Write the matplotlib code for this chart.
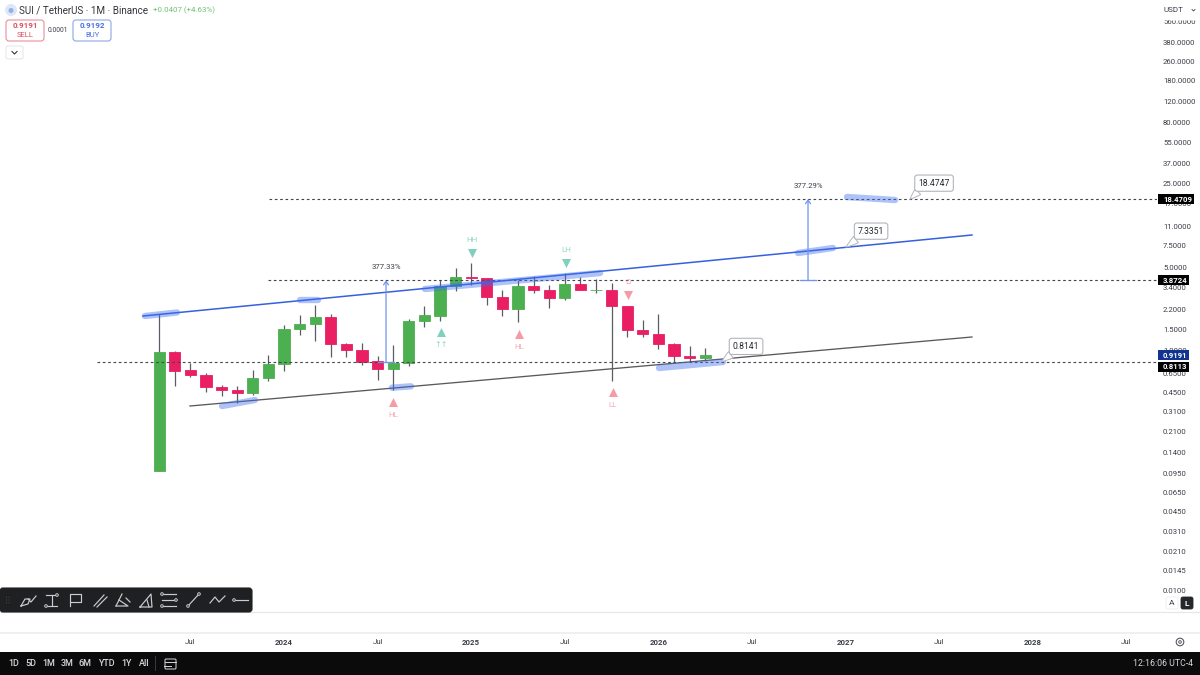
import matplotlib
matplotlib.use('Agg')
import matplotlib.pyplot as plt
from matplotlib.patches import FancyBboxPatch, Rectangle, Circle

plt.rcParams['font.family'] = ['Roboto', 'DejaVu Sans']

# monthly candles, month 0 = Jan 2024
highs = [2.026, 0.9941, 0.7846, 0.651, 0.5138, 0.504, 0.6857, 0.9152, 1.64, 1.976, 2.409, 2.026,
         1.166, 1.166, 0.9029, 1.109, 1.84, 2.377, 3.898, 4.939, 5.375, 4.051, 3.216, 3.898,
         4.234, 3.54, 4.434, 4.154, 3.951, 3.701, 2.363, 1.805, 2.026, 1.16, 1.088, 1.047]
opens = [0.09875, 0.9696, 0.6857, 0.6264, 0.5001, 0.4693, 0.4405, 0.5879, 0.7696, 1.509, 1.662, 1.902,
         1.131, 1.013, 0.8154, 0.7072, 0.7891, 1.771, 1.961, 3.473, 4.13, 4.051, 2.827, 2.231,
         3.473, 3.216, 2.741, 3.588, 3.216, 3.216, 2.363, 1.489, 1.387, 1.144, 0.9029, 0.8688]
closes = [0.9696, 0.6805, 0.6228, 0.4972, 0.4693, 0.4405, 0.5913, 0.7696, 1.509, 1.662, 1.902, 1.131,
          1.013, 0.8091, 0.7031, 0.7891, 1.771, 1.976, 3.473, 4.106, 4.074, 2.827, 2.231, 3.473,
          3.216, 2.757, 3.588, 3.216, 3.234, 2.35, 1.489, 1.387, 1.144, 0.8977, 0.8739, 0.9191]
lows = [0.09875, 0.5098, 0.6028, 0.4542, 0.4182, 0.3676, 0.4263, 0.5613, 0.6805, 1.36, 1.212, 0.8857,
        0.8857, 0.7593, 0.5722, 0.4666, 0.7406, 1.587, 1.781, 3.173, 3.52, 2.409, 1.961, 1.727,
        3.053, 2.287, 2.653, 3.216, 3.053, 0.5613, 1.309, 1.302, 1.033, 0.7846, 0.8045, 0.8248]
months = list(range(-8, -8 + len(closes)))

price_ticks = [560, 380, 260, 180, 120, 80, 55, 37, 25, 17, 11, 7.5, 5, 3.4, 2.2, 1.5, 1, 0.65, 0.45,
               0.31, 0.21, 0.14, 0.095, 0.065, 0.045, 0.031, 0.021, 0.0145, 0.01]
time_ticks = [-6, 0, 6, 12, 18, 24, 30, 36, 42, 48, 54]
time_labels = ['Jul', '2024', 'Jul', '2025', 'Jul', '2026', 'Jul', '2027', 'Jul', '2028', 'Jul']

levels = [18.4709, 3.8724, 0.8113]
level_starts = [-0.96, -1.03, -12]

# trend lines (month, price)
upper_x, upper_y = [-9.04, 44.1], [1.95, 9.267]
lower_x, lower_y = [-6.03, 44.1], [0.345, 1.302]

# brush strokes
strokes = [([-8.91, -6.86], [1.95, 2.086]),
           ([1.03, 2.18], [2.653, 2.653]),
           ([-3.97, -1.86], [0.345, 0.3872]),
           ([6.92, 8.14], [0.4907, 0.504]),
           ([9.04, 20.26], [3.278, 4.46]),
           ([24.04, 28.14], [0.7168, 0.8043]),
           ([32.95, 35.19], [6.554, 7.216]),
           ([36.09, 39.17], [19.25, 18.17])]

# measure arrows: month, from, to, label
measures = [(6.54, 0.8113, 3.8724, '377.33%'), (33.59, 3.8724, 18.4709, '377.29%')]

# swing markers: month, price, label, marker, colour
swings = [(12.05, 6.554, 'HH', 'v', '#7fd0bd'),
          (10.06, 1.442, '↑↑', '^', '#7fd0bd'),
          (18.08, 5.41, 'LH', 'v', '#7fd0bd'),
          (15.06, 1.387, 'HL', '^', '#f79aa6'),
          (6.99, 0.375, 'HL', '^', '#f79aa6'),
          (21.07, 0.454, 'LL', '^', '#f79aa6'),
          (22.05, 2.92, 'Ω', 'v', '#f79aa6')]

# price callouts: month, price, label, pixel offset of the box
callouts = [(40.13, 18.4747, '18.4747', (24, 16)),
            (36.03, 7.3351, '7.3351', (25, 16)),
            (28.08, 0.8141, '0.8141', (24, 15))]

# scale badges: price, label, colour, pixel shift, right edge
badges = [(18.4709, '18.4709', 'black', 0, 1194), (3.8724, '3.8724', 'black', 0, 1189),
          (0.9191, '0.9191', '#12338f', 0, 1189), (0.8113, '0.8113', 'black', 5, 1189)]

range_labels = ['1D', '5D', '1M', '3M', '6M', 'YTD', '1Y', 'All']
range_x = [14, 31, 49, 67, 85, 106, 126, 144]

RED = '#e91e63'
GREEN = '#4caf50'
WICK = '#5a5d66'
TEXT = '#3c3f48'
ICON = '#c9ccd4'

fig = plt.figure(figsize=(12, 6.75), dpi=100)
ax = fig.add_axes([0, 63 / 675, 1157 / 1200, 612 / 675])
ax.set_yscale('log')
ax.set_xlim(-18.205, 55.96)
ax.set_ylim(0.00655, 853)
for s in ax.spines.values():
    s.set_visible(False)

ax.vlines(months, lows, highs, color=WICK, lw=0.9, zorder=2)
for m, o, c in zip(months, opens, closes):
    col = GREEN if c >= o else RED
    ax.bar(m, abs(c - o), bottom=min(o, c), width=0.72, color=col, edgecolor=col, lw=0.6, zorder=3)

for lev, start in zip(levels, level_starts):
    ax.plot([start, 55.96], [lev, lev], color='#44464d', lw=0.8, ls=(0, (2.4, 2.4)), zorder=4)

ax.plot(upper_x, upper_y, color='#3561dd', lw=1.1, zorder=4)
ax.plot(lower_x, lower_y, color='#5a5a5a', lw=0.95, zorder=4)

for sx, sy in strokes:
    ax.plot(sx, sy, color='#3f6ff0', alpha=0.42, lw=4.6, solid_capstyle='round', zorder=5)

for m, p0, p1, label in measures:
    ax.annotate('', xy=(m, p1), xytext=(m, p0),
                arrowprops=dict(arrowstyle='->,head_width=0.18,head_length=0.25', color='#6f94ee',
                                lw=0.9, shrinkA=0, shrinkB=0), zorder=5)
    ax.plot([m - 0.5, m + 0.5], [p0, p0], color='#6f94ee', lw=0.9, zorder=5)
    ax.annotate(label, xy=(m, p1), xytext=(0, 10), textcoords='offset pixels', ha='center', va='bottom',
                fontsize=5.6, color=TEXT, zorder=6)

for m, p, label, mk, col in swings:
    ax.scatter([m], [p], marker=mk, s=42, color=col, lw=0, zorder=6)
    dy = 13 if mk == 'v' else -13
    ax.annotate(label, xy=(m, p), xytext=(0, dy), textcoords='offset pixels', ha='center', va='center',
                fontsize=5.8, color=col, alpha=0.85, zorder=6)

for m, p, label, off in callouts:
    ax.annotate(label, xy=(m, p), xytext=off, textcoords='offset pixels', ha='center', va='center',
                fontsize=6.2, color='#26282e', zorder=8,
                bbox=dict(boxstyle='round,pad=0.42,rounding_size=0.3', fc='white', ec='#b2b5be', lw=0.8),
                arrowprops=dict(arrowstyle='wedge,tail_width=0.9,shrink_factor=0.6', fc='white', ec='#b2b5be',
                                lw=0.7, shrinkA=0, shrinkB=0, relpos=(0.14, 0.05)))

ax.yaxis.tick_right()
ax.minorticks_off()
ax.set_yticks(price_ticks, ['%.4f' % p for p in price_ticks])
ax.tick_params(axis='y', length=0, pad=4.3, labelsize=5.6, labelcolor=TEXT, which='both')
ax.set_xticks(time_ticks, time_labels)
ax.tick_params(axis='x', length=0, pad=19.6, labelsize=5.7, labelcolor=TEXT)
for lab in ax.get_xticklabels():
    if lab.get_text() != 'Jul':
        lab.set_fontweight('bold')

# window chrome, drawn in pixel coordinates
ui = fig.add_axes([0, 0, 1, 1], zorder=5)
ui.set_xlim(0, 1200)
ui.set_ylim(675, 0)
ui.axis('off')
ui.patch.set_alpha(0)

ui.plot([0, 1200], [612, 612], color='#e4e6eb', lw=0.8)
ui.plot([0, 1200], [633, 633], color='#eceef2', lw=1.2)
ui.add_patch(Rectangle((0, 652), 1200, 23, fc='#0b0b0c', ec='none'))


def box(x0, y0, w, h, fc, ec, r=2, lw=0.8):
    ui.add_patch(FancyBboxPatch((x0, y0), w, h, boxstyle='round,pad=0,rounding_size=%g' % r,
                                fc=fc, ec=ec, lw=lw, zorder=3))


# last price badges sit on the scale, over its tick labels
for p, label, col, dy, right in badges:
    ypx = 675 - ax.transData.transform((0, p))[1] + dy
    ui.add_patch(Rectangle((1158, ypx - 5), right - 1158, 10, fc=col, ec='none', zorder=3))
    ui.text(1163, ypx, label, fontsize=5.6, fontweight='bold', color='white', va='center', zorder=4)

# header
ui.add_patch(Circle((11, 10), 6, fc='#dfe6f5', ec='none'))
ui.add_patch(Circle((11, 10.5), 2.5, fc='#8fb2ea', ec='none'))
ui.text(19, 10, 'SUI / TetherUS · 1M · Binance', fontsize=7.1, color='#33353c', va='center')
ui.text(153, 10, '+0.0407 (+4.63%)', fontsize=5.7, color='#6fbf73', va='center')
box(6, 20, 38, 21, 'white', '#ec8d99', r=3)
ui.text(25, 26, '0.9191', fontsize=5.8, fontweight='bold', color='#d9505f', ha='center', va='center', zorder=4)
ui.text(25, 35, 'SELL', fontsize=5.5, color='#d9505f', ha='center', va='center', zorder=4)
ui.text(58, 30, '0.0001', fontsize=4.9, color=TEXT, ha='center', va='center')
box(73, 20, 38, 21, 'white', '#8ea6ea', r=3)
ui.text(92, 26, '0.9192', fontsize=5.8, fontweight='bold', color='#4a6fde', ha='center', va='center', zorder=4)
ui.text(92, 35, 'BUY', fontsize=5.5, color='#4a6fde', ha='center', va='center', zorder=4)
box(6, 46, 17, 13, 'white', '#e6e8ec', r=2)
ui.plot([12, 14.5, 17], [51.5, 54, 51.5], color='#33353c', lw=0.8, zorder=4)

# scale corner
box(1161, 3, 36, 17, 'white', 'white', r=2, lw=0.6)
ui.text(1163, 10, 'USDT', fontsize=5.8, color=TEXT, va='center', zorder=4)
ui.plot([1192, 1193.5, 1195], [9.5, 11, 9.5], color=TEXT, lw=0.6, zorder=4)
box(1166, 597, 12, 12, 'white', '#eceef2', r=2, lw=0.6)
ui.text(1172, 603, 'A', fontsize=6, color=TEXT, ha='center', va='center', zorder=4)
box(1181, 597, 12, 12, '#26272b', '#26272b', r=2, lw=0.6)
ui.text(1187, 603, 'L', fontsize=6, fontweight='bold', color='white', ha='center', va='center', zorder=4)
ui.add_patch(Circle((1180, 642), 3.8, fc='none', ec='#55585f', lw=0.8))
ui.add_patch(Circle((1180, 642), 1.3, fc='none', ec='#55585f', lw=0.7))

# drawing toolbar
box(0, 588, 252, 24, '#1f2022', '#1f2022', r=3)
for gx in (6.5, 9):
    for gy in (597, 600, 603):
        ui.add_patch(Circle((gx, gy), 0.5, fc='#55575c', ec='none', zorder=4))
icons = [
    [(21, 606), (25, 599), (30, 599), (28, 604), (21, 606)], [(28, 599), (31, 602), (36, 596)],
    [(46, 595), (57, 595)], [(51.5, 595), (51.5, 606)], [(46, 606), (57, 606)],
    [(70, 606), (70, 594), (81, 594), (81, 602), (71, 602)],
    [(94, 606), (104, 595)], [(97, 607), (107, 597)],
    [(116, 606), (122, 594)], [(119, 600), (128, 606), (116, 606)], [(126, 598), (130, 602)],
    [(140, 607), (151, 594), (152, 607), (140, 607)], [(147, 600), (149, 607)],
    [(162, 594), (176, 594)], [(162, 600), (176, 600)], [(162, 606), (176, 606)],
    [(188, 606), (199, 594)],
    [(210, 603), (215, 597), (219, 602), (225, 596)],
    [(234, 600), (248, 600)],
]
for pts in icons:
    ui.plot([p[0] for p in pts], [p[1] for p in pts], color=ICON, lw=0.85, zorder=4)
for cx, cy in [(188, 606), (199, 594), (234, 600), (162, 594), (162, 606), (176, 600), (57, 595), (46, 606)]:
    ui.add_patch(Circle((cx, cy), 1.3, fc='#1f2022', ec=ICON, lw=0.7, zorder=5))

# bottom bar
for x, label in zip(range_x, range_labels):
    ui.text(x, 663.5, label, fontsize=6.5, color='#d6d8de', ha='center', va='center', fontweight='medium')
ui.plot([155, 155], [656, 670], color='#3a3b40', lw=0.7)
box(165, 659, 11, 10, 'none', '#d6d8de', r=1, lw=0.7)
ui.plot([165, 176], [662, 662], color='#d6d8de', lw=0.7, zorder=4)
ui.plot([164, 171], [665.5, 665.5], color='#d6d8de', lw=0.7, zorder=4)
ui.text(1193, 663.5, '12:16:06 UTC-4', fontsize=6.3, color='#d6d8de', ha='right', va='center')

fig.savefig('out.png', dpi=100)
